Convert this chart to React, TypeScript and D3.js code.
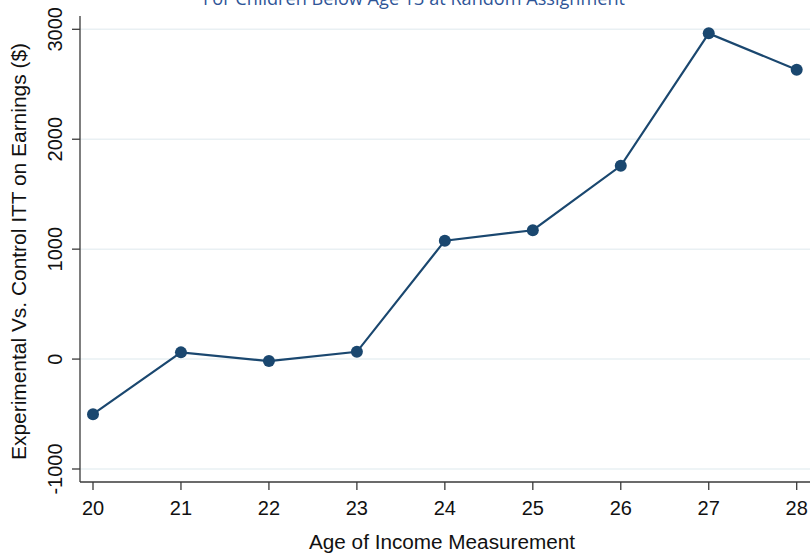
import React from "react";
import * as d3 from "d3";

const ages = [20, 21, 22, 23, 24, 25, 26, 27, 28];
const itt = [-501, 61, -18, 66, 1077, 1172, 1758, 2963, 2632];
const yTicks = [-1000, 0, 1000, 2000, 3000];
const titleText = "For Children Below Age 13 at Random Assignment";
const xTitle = "Age of Income Measurement";
const yTitle = "Experimental Vs. Control ITT on Earnings ($)";

const W = 810;
const H = 554;
const axisX = 80;
const axisTop = 16;
const axisBottom = 482;
const navy = "#1a476f";
const axisColor = "#3a3a3a";
const gridColor = "#e9f0f3";

export default function App() {
  const x = d3.scaleLinear().domain([20, 28]).range([93, 796.7]);
  const y = d3.scaleLinear().domain([-1000, 3000]).range([469, 29.3]);
  const data = ages.map((a, i) => ({ a, v: itt[i] }));
  const line = d3
    .line<{ a: number; v: number }>()
    .x((d) => x(d.a))
    .y((d) => y(d.v));

  return (
    <svg
      width={W}
      height={H}
      style={{ position: "absolute", left: 0, top: 0, background: "#fff" }}
      fontFamily="'Liberation Sans', Arial, sans-serif"
    >
      <rect x={0} y={0} width={W} height={H} fill="#fff" />
      {/* title (cut off at the top) */}
      <text
        x={414}
        y={5}
        textAnchor="middle"
        fontFamily="'Open Sans', sans-serif"
        fontSize={18}
        fill="#2f5597"
        textLength={422}
        lengthAdjust="spacingAndGlyphs"
      >
        {titleText}
      </text>
      {/* gridlines */}
      {yTicks.map((t) => (
        <line
          key={"g" + t}
          x1={axisX}
          x2={W}
          y1={y(t)}
          y2={y(t)}
          stroke={gridColor}
          strokeWidth={1.5}
        />
      ))}
      {/* axes */}
      <line x1={axisX} x2={axisX} y1={axisTop} y2={axisBottom} stroke={axisColor} strokeWidth={1.3} />
      <line x1={axisX} x2={W} y1={axisBottom} y2={axisBottom} stroke={axisColor} strokeWidth={1.3} />
      {yTicks.map((t) => (
        <g key={"yt" + t}>
          <line x1={axisX - 8} x2={axisX} y1={y(t)} y2={y(t)} stroke={axisColor} strokeWidth={1.3} />
          <text
            transform={`translate(62.3,${y(t)}) rotate(-90)`}
            textAnchor="middle"
            fontSize={20}
            fill="#111"
          >
            {t}
          </text>
        </g>
      ))}
      {ages.map((a) => (
        <g key={"xt" + a}>
          <line x1={x(a)} x2={x(a)} y1={axisBottom} y2={axisBottom + 8} stroke={axisColor} strokeWidth={1.3} />
          <text x={x(a)} y={515} textAnchor="middle" fontSize={20} fill="#111">
            {a}
          </text>
        </g>
      ))}
      {/* axis titles */}
      <text
        x={442}
        y={549}
        textAnchor="middle"
        fontSize={20}
        fill="#111"
        textLength={266}
        lengthAdjust="spacingAndGlyphs"
      >
        {xTitle}
      </text>
      <text
        transform={`translate(26,251.5) rotate(-90)`}
        textAnchor="middle"
        fontSize={20}
        fill="#111"
        textLength={417}
        lengthAdjust="spacingAndGlyphs"
      >
        {yTitle}
      </text>
      {/* series */}
      <path d={line(data) || ""} fill="none" stroke={navy} strokeWidth={2.2} />
      {data.map((d) => (
        <circle key={"p" + d.a} cx={x(d.a)} cy={y(d.v)} r={6} fill={navy} />
      ))}
    </svg>
  );
}
